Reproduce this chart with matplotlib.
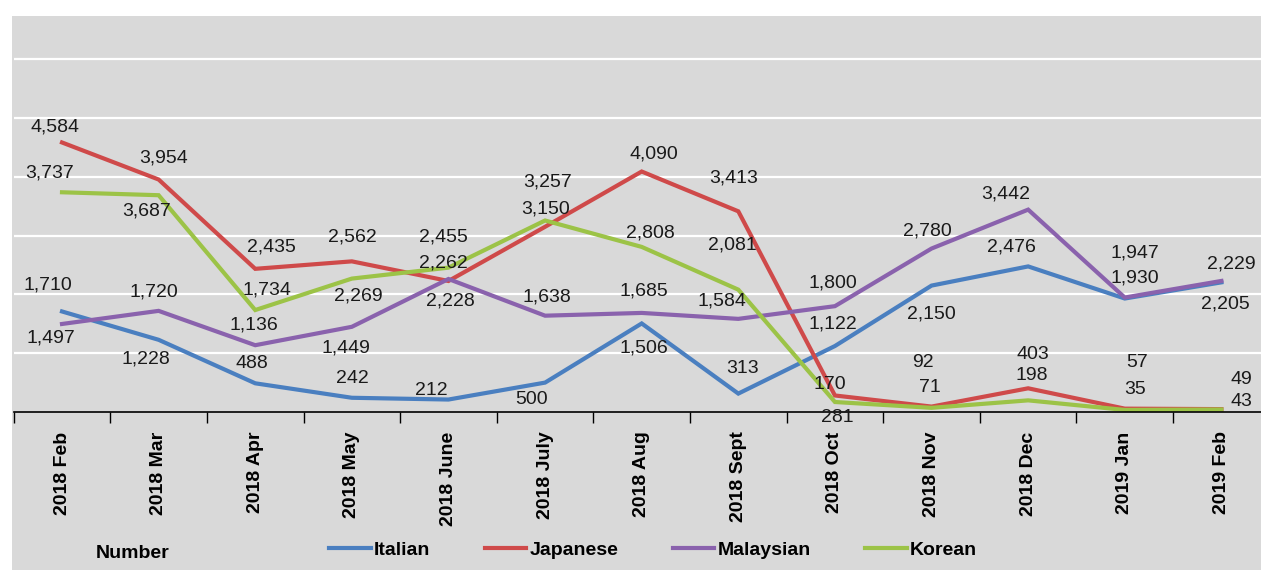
import numpy as np
import matplotlib
matplotlib.use("Agg")
import matplotlib.pyplot as plt
from matplotlib.patches import Rectangle

plt.rcParams['font.family'] = ['Liberation Sans', 'DejaVu Sans']

# 数据
months = ['2018 Feb', '2018 Mar', '2018 Apr', '2018 May', '2018 June', '2018 July',
          '2018 Aug', '2018 Sept', '2018 Oct', '2018 Nov', '2018 Dec', '2019 Jan', '2019 Feb']
italian = [1710, 1228, 488, 242, 212, 500, 1506, 313, 1122, 2150, 2476, 1930, 2205]
japanese = [4584, 3954, 2435, 2562, 2228, 3150, 4090, 3413, 281, 92, 403, 57, 49]
malaysian = [1497, 1720, 1136, 1449, 2262, 1638, 1685, 1584, 1800, 2780, 3442, 1947, 2229]
korean = [3737, 3687, 1734, 2269, 2455, 3257, 2808, 2081, 170, 71, 198, 35, 43]

# 数据标签的偏移 (像素, dx, dy)
off_italian = [(-14, 26), (-13, -19), (-3, 20), (1, 19), (-17, 9), (-14, -17), (2, -25),
               (4, 25), (-2, 22), (0, -28), (-17, 19), (10, 21), (4, -22)]
off_japanese = [(-7, 15), (5, 22), (16, 22), (1, 24), (2, -20), (1, 18), (12, 18),
                (-5, 33), (2, -22), (-9, 44), (5, 34), (12, 46), (20, 30)]
off_malaysian = [(-11, -14), (-5, 19), (-1, 20), (-6, -21), (-5, 16), (2, 19), (2, 22),
                 (-16, 18), (-2, 23), (-4, 18), (-22, 16), (10, 45), (10, 17)]
off_korean = [(-12, 19), (-12, -16), (12, 20), (6, -17), (-5, 31), (3, 38), (9, 14),
              (-6, 45), (-5, 18), (-2, 20), (4, 25), (10, 20), (20, 8)]

series = [
    ('Italian', italian, '#4a7fc0', off_italian),
    ('Japanese', japanese, '#cf4a4a', off_japanese),
    ('Malaysian', malaysian, '#8a62ad', off_malaysian),
    ('Korean', korean, '#9cc347', off_korean),
]

fig = plt.figure(figsize=(12.61, 5.70), dpi=100, facecolor='white')
fig.patches.append(Rectangle((12 / 1261, 0), 1, 554 / 570, transform=fig.transFigure,
                             facecolor='#d9d9d9', edgecolor='none', zorder=-1))

ax = fig.add_axes([13.7 / 1261, 158 / 570, 1256 / 1261, 396 / 570])
ax.set_facecolor('#d9d9d9')

x = np.arange(len(months))
for name, vals, color, offs in series:
    ax.plot(x, vals, color=color, lw=3, label=name, solid_joinstyle='miter')
    for xi, v, (dx, dy) in zip(x, vals, offs):
        ax.annotate(f'{v:,}', (xi, v), xytext=(dx, dy), textcoords='offset pixels',
                    ha='center', va='center', fontsize=14, color='#1a1a1a')

ax.set_xlim(-0.5, 12.5)
ax.set_ylim(0, 6735)
ax.set_yticks(np.arange(1000, 7000, 1000))
ax.yaxis.grid(True, color='white', lw=1.6)
ax.set_axisbelow(True)
ax.tick_params(axis='y', length=0, labelleft=False)

ax.set_xticks(x)
ax.set_xticklabels(months, rotation=90, fontweight='bold', fontsize=14)
ax.set_xticks(np.arange(-0.5, 13, 1), minor=True)
ax.tick_params(axis='x', which='major', length=0, pad=14)
ax.tick_params(axis='x', which='minor', length=8, width=1, color='black')

for s in ['top', 'right', 'left']:
    ax.spines[s].set_visible(False)
ax.spines['bottom'].set_color('black')
ax.spines['bottom'].set_linewidth(1.2)

fig.text(133 / 1261, 1 - 553 / 570, 'Number', ha='center', va='center',
         fontsize=14, fontweight='bold')
fig.legend(loc='center', bbox_to_anchor=(653 / 1261, 1 - 550 / 570), ncol=4,
           frameon=False, handlelength=2.15, handletextpad=0.15, columnspacing=2.8,
           prop={'size': 14, 'weight': 'bold'})

plt.savefig('out.png', dpi=100)
